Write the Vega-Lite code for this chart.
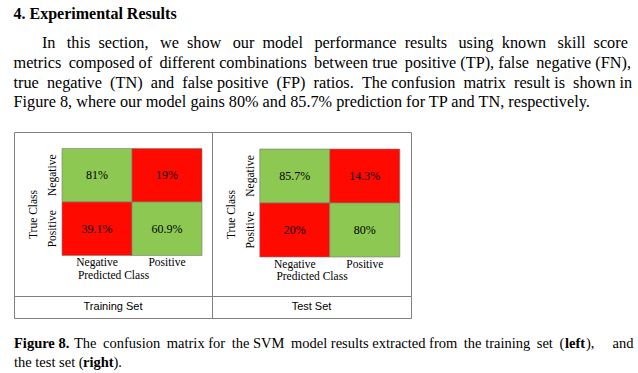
{
  "$schema": "https://vega.github.io/schema/vega-lite/v6.json",
  "background": "white",
  "padding": {"left": 13, "top": 6, "right": 0, "bottom": 0},
  "title": {
    "text": "4. Experimental Results",
    "subtitle": [
      "\u200b\u00a0\u00a0\u00a0\u00a0\u00a0\u00a0\u00a0In \u00a0\u2009this \u00a0section, \u00a0\u2009we \u00a0show \u00a0\u2009our \u00a0model \u00a0\u2009performance \u00a0results \u00a0\u2009using \u00a0known \u00a0\u2009skill \u00a0score",
      "metrics \u2009composed of \u2009different combinations \u2009between true \u2009positive (TP), false \u2009negative (FN),",
      "true \u00a0negative \u00a0(TN) \u00a0and \u00a0false positive \u00a0(FP) \u00a0ratios. \u00a0The confusion \u00a0matrix \u00a0result is \u00a0shown in",
      "Figure 8, where our model gains 80% and 85.7% prediction for TP and TN, respectively."
    ],
    "anchor": "start",
    "font": "Liberation Serif",
    "fontSize": 16,
    "fontWeight": "bold",
    "color": "black",
    "subtitleFont": "Liberation Serif",
    "subtitleFontSize": 16.25,
    "subtitleColor": "black",
    "subtitleLineHeight": 19.7,
    "subtitlePadding": 13,
    "offset": 21
  },
  "spacing": 15,
  "vconcat": [
    {
      "columns": 2,
      "spacing": 0,
      "bounds": "flush",
      "concat": [
        {
          "width": 198,
          "height": 164,
          "data": {"values": [
            {"actual": "Negative", "predicted": "Negative", "share": 0.81, "outcome": "correct"},
            {"actual": "Negative", "predicted": "Positive", "share": 0.19, "outcome": "wrong"},
            {"actual": "Positive", "predicted": "Negative", "share": 0.391, "outcome": "wrong"},
            {"actual": "Positive", "predicted": "Positive", "share": 0.609, "outcome": "correct"}
          ]},
          "encoding": {
            "x": {"field": "predicted", "type": "nominal", "sort": ["Negative", "Positive"],
              "scale": {"paddingInner": 0, "paddingOuter": 0.4143, "align": 0.8276},
              "axis": {"orient": "bottom", "offset": -40.5, "domain": false, "ticks": false, "tickSize": 0, "grid": false,
                "labelAngle": 0, "labelFont": "Liberation Serif", "labelFontSize": 11.5, "labelColor": "black", "labelPadding": 1,
                "title": "Predicted Class", "titleFont": "Liberation Serif", "titleFontSize": 11.5, "titleFontWeight": "normal", "titleColor": "black", "titlePadding": 1}},
            "y": {"field": "actual", "type": "nominal", "sort": ["Negative", "Positive"],
              "scale": {"paddingInner": 0, "paddingOuter": 0.5327, "align": 0.2895},
              "axis": {"orient": "left", "offset": -48, "domain": false, "ticks": false, "tickSize": 0, "grid": false,
                "labelAngle": -90, "labelAlign": "center", "labelBaseline": "middle", "labelFont": "Liberation Serif", "labelFontSize": 11.5, "labelColor": "black", "labelPadding": 10,
                "title": "True Class", "titleFont": "Liberation Serif", "titleFontSize": 11.5, "titleFontWeight": "normal", "titleColor": "black", "titlePadding": 8}}
          },
          "layer": [
            {"mark": {"type": "rect", "stroke": "#7a7a7a", "strokeWidth": 0.6},
             "encoding": {"color": {"field": "outcome", "type": "nominal", "scale": {"domain": ["correct", "wrong"], "range": ["#8DC853", "#FF0A00"]}, "legend": null}}},
            {"mark": {"type": "text", "font": "Liberation Serif", "fontSize": 12, "color": "black"},
             "encoding": {"text": {"field": "share", "type": "quantitative", "format": ".1~%"}}}
          ]
        },
        {
          "width": 199,
          "height": 164,
          "data": {"values": [
            {"actual": "Negative", "predicted": "Negative", "share": 0.857, "outcome": "correct"},
            {"actual": "Negative", "predicted": "Positive", "share": 0.143, "outcome": "wrong"},
            {"actual": "Positive", "predicted": "Negative", "share": 0.2, "outcome": "wrong"},
            {"actual": "Positive", "predicted": "Positive", "share": 0.8, "outcome": "correct"}
          ]},
          "encoding": {
            "x": {"field": "predicted", "type": "nominal", "sort": ["Negative", "Positive"],
              "scale": {"paddingInner": 0, "paddingOuter": 0.4214, "align": 0.81},
              "axis": {"orient": "bottom", "offset": -39, "domain": false, "ticks": false, "tickSize": 0, "grid": false,
                "labelAngle": 0, "labelFont": "Liberation Serif", "labelFontSize": 11.5, "labelColor": "black", "labelPadding": 1,
                "title": "Predicted Class", "titleFont": "Liberation Serif", "titleFontSize": 11.5, "titleFontWeight": "normal", "titleColor": "black", "titlePadding": 1}},
            "y": {"field": "actual", "type": "nominal", "sort": ["Negative", "Positive"],
              "scale": {"paddingInner": 0, "paddingOuter": 0.5185, "align": 0.3036},
              "axis": {"orient": "left", "offset": -48, "domain": false, "ticks": false, "tickSize": 0, "grid": false,
                "labelAngle": -90, "labelAlign": "center", "labelBaseline": "middle", "labelFont": "Liberation Serif", "labelFontSize": 11.5, "labelColor": "black", "labelPadding": 10,
                "title": "True Class", "titleFont": "Liberation Serif", "titleFontSize": 11.5, "titleFontWeight": "normal", "titleColor": "black", "titlePadding": 8}}
          },
          "layer": [
            {"mark": {"type": "rect", "stroke": "#7a7a7a", "strokeWidth": 0.6},
             "encoding": {"color": {"field": "outcome", "type": "nominal", "scale": {"domain": ["correct", "wrong"], "range": ["#8DC853", "#FF0A00"]}, "legend": null}}},
            {"mark": {"type": "text", "font": "Liberation Serif", "fontSize": 12, "color": "black"},
             "encoding": {"text": {"field": "share", "type": "quantitative", "format": ".1~%"}}}
          ]
        },
        {
          "width": 198,
          "height": 22,
          "view": {"stroke": "#808080"},
          "data": {"values": [{"set": "Training Set"}]},
          "mark": {"type": "text", "font": "Liberation Sans", "fontSize": 11, "color": "black"},
          "encoding": {"text": {"field": "set"}}
        },
        {
          "width": 199,
          "height": 22,
          "view": {"stroke": "#808080"},
          "data": {"values": [{"set": "Test Set"}]},
          "mark": {"type": "text", "font": "Liberation Sans", "fontSize": 11, "color": "black"},
          "encoding": {"text": {"field": "set"}}
        }
      ]
    },
    {
      "width": 620,
      "height": 38,
      "view": {"stroke": null},
      "encoding": {
        "y": {"field": "line", "type": "ordinal", "axis": null, "scale": {"type": "point", "padding": 0.5}},
        "x": {"value": 0}
      },
      "layer": [
        {"data": {"values": [{"line": "1", "part": "Figure 8."}]},
         "mark": {"type": "text", "align": "left", "baseline": "middle", "font": "Liberation Serif", "fontSize": 14.5, "fontWeight": "bold", "color": "black"},
         "encoding": {"text": {"field": "part"}}},
        {"data": {"values": [{"line": "1", "part": "The \u2009confusion \u2009matrix for \u2009the SVM \u2009model results extracted from \u2009the training \u2009set \u2009("}]},
         "mark": {"type": "text", "align": "left", "baseline": "middle", "font": "Liberation Serif", "fontSize": 14.5, "color": "black", "dx": 60},
         "encoding": {"text": {"field": "part"}}},
        {"data": {"values": [{"line": "1", "part": "left"}]},
         "mark": {"type": "text", "align": "left", "baseline": "middle", "font": "Liberation Serif", "fontSize": 14.5, "fontWeight": "bold", "color": "black", "dx": 551},
         "encoding": {"text": {"field": "part"}}},
        {"data": {"values": [{"line": "1", "part": "), \u00a0\u00a0\u00a0\u00a0and"}]},
         "mark": {"type": "text", "align": "left", "baseline": "middle", "font": "Liberation Serif", "fontSize": 14.5, "color": "black", "dx": 572},
         "encoding": {"text": {"field": "part"}}},
        {"data": {"values": [{"line": "2", "part": "the test set ("}]},
         "mark": {"type": "text", "align": "left", "baseline": "middle", "font": "Liberation Serif", "fontSize": 14.5, "color": "black"},
         "encoding": {"text": {"field": "part"}}},
        {"data": {"values": [{"line": "2", "part": "right"}]},
         "mark": {"type": "text", "align": "left", "baseline": "middle", "font": "Liberation Serif", "fontSize": 14.5, "fontWeight": "bold", "color": "black", "dx": 69},
         "encoding": {"text": {"field": "part"}}},
        {"data": {"values": [{"line": "2", "part": ")."}]},
         "mark": {"type": "text", "align": "left", "baseline": "middle", "font": "Liberation Serif", "fontSize": 14.5, "color": "black", "dx": 99.5},
         "encoding": {"text": {"field": "part"}}}
      ]
    }
  ],
  "config": {
    "view": {"stroke": "#808080", "strokeWidth": 1},
    "style": {"view": {"stroke": "#808080"}},
    "concat": {"spacing": 0}
  }
}
